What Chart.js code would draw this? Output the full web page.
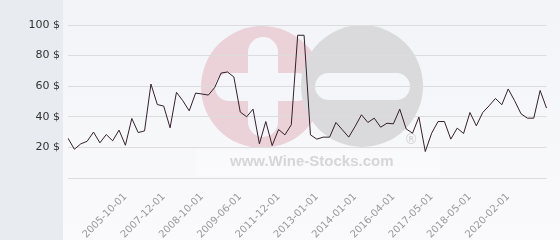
<!DOCTYPE html>
<html>
<head>
<meta charset="utf-8">
<script src="https://cdn.jsdelivr.net/npm/chart.js@4/dist/chart.umd.min.js"></script>
<style>
  html, body { margin: 0; padding: 0; background: #f6f7fa; }
  #wrap { width: 560px; height: 240px; }
</style>
</head>
<body>
<div id="wrap"><canvas id="priceChart" width="560" height="240"></canvas></div>
<script>
// ==========================================
// DATA
// ==========================================

// Price per bottle, one value per quote (76 quotes)
const prices = [
    26, 18.8, 22.3, 24, 30, 23, 28.4, 24.3, 31.3, 21.4,
    38.9, 29.7, 30.8, 61.4, 48, 47, 32.8, 56, 50.5, 43.9,
    55.5, 54.9, 54.2, 59.2, 68.6, 69.3, 66, 43.1, 40, 45,
    22.3, 36.9, 21.2, 31.7, 28.2, 34.8, 93.3, 93.3, 28.2, 25.4,
    26.7, 26.7, 36.3, 31.5, 26.7, 33.7, 41.3, 36.3, 39.1, 33.2,
    35.8, 35.4, 45, 32.1, 29.3, 39.8, 17.3, 29.3, 36.9, 36.9,
    25.4, 32.6, 29.1, 42.8, 34.1, 42.8, 47.2, 52, 47.9, 58.2,
    50.5, 42, 39.1, 39.1, 57.2, 45.7
];

// Dates shown on the x axis (every 6th quote, starting at the 10th)
const tickLabels = [
    '2005-10-01', '2007-12-01', '2008-10-01', '2009-06-01', '2011-12-01',
    '2013-01-01', '2014-01-01', '2016-04-01', '2017-05-01', '2018-05-01',
    '2020-02-01'
];
const firstTick = 9;
const tickEvery = 6;

// y axis ticks
const yTicks = [0, 20, 40, 60, 80, 100];

// Build category labels from the known dates
const categories = prices.map((v, i) => {
    const k = (i - firstTick) / tickEvery;
    return (k >= 0 && Number.isInteger(k) && k < tickLabels.length) ? tickLabels[k] : '';
});

// ==========================================
// BACKGROUND + WATERMARK
// ==========================================

const roundBar = (ctx, x, y, w, h) => {
    const r = Math.min(w, h) / 2;
    ctx.beginPath();
    ctx.roundRect(x, y, w, h, r);
    ctx.fill();
};

const backdrop = {
    id: 'backdrop',
    beforeDraw(chart) {
        const ctx = chart.ctx;
        ctx.save();
        // left panel
        ctx.fillStyle = '#e8ecf0';
        ctx.fillRect(0, 0, 63, chart.height);
        // plot panel
        const g = ctx.createLinearGradient(0, 0, 0, chart.height);
        g.addColorStop(0, '#f3f4f8');
        g.addColorStop(1, '#fafafc');
        ctx.fillStyle = g;
        ctx.fillRect(63, 0, chart.width - 63, chart.height);

        // watermark logo: pink plus, then grey minus
        ctx.fillStyle = '#ebd2d9';
        ctx.beginPath();
        ctx.arc(262, 87, 61, 0, Math.PI * 2);
        ctx.fill();
        ctx.fillStyle = '#f5f6f9';
        roundBar(ctx, 248, 37, 30, 100);
        roundBar(ctx, 215, 73, 96, 28);

        ctx.fillStyle = '#dadadc';
        ctx.beginPath();
        ctx.arc(362, 86, 61, 0, Math.PI * 2);
        ctx.fill();
        ctx.fillStyle = '#f5f6f9';
        roundBar(ctx, 315, 73, 95, 27);

        // watermark text
        ctx.fillStyle = 'rgba(255,255,255,0.3)';
        ctx.fillRect(196, 150, 244, 26);
        ctx.fillStyle = '#d6d6d8';
        ctx.font = 'bold 15px "Liberation Sans", Arial, sans-serif';
        ctx.textAlign = 'left';
        ctx.textBaseline = 'alphabetic';
        ctx.fillText('www.Wine-Stocks.com', 230, 166);
        ctx.font = 'bold 14px "Liberation Sans", Arial, sans-serif';
        ctx.fillText('\u00AE', 406, 144);
        ctx.restore();
    }
};

// ==========================================
// CHART
// ==========================================

Chart.defaults.font.family = '"DejaVu Sans", sans-serif';

const priceCtx = document.getElementById('priceChart').getContext('2d');
const priceChart = new Chart(priceCtx, {
    type: 'line',
    data: {
        labels: categories,
        datasets: [{
            data: prices,
            borderColor: '#33202a',
            borderWidth: 1,
            pointRadius: 0,
            tension: 0,
            fill: false
        }]
    },
    options: {
        responsive: false,
        animation: false,
        layout: {
            padding: { top: 25, right: 5, left: 0, bottom: 0 }
        },
        plugins: {
            legend: { display: false },
            tooltip: { enabled: false }
        },
        scales: {
            x: {
                offset: false,
                grid: { display: false },
                border: { display: false },
                afterFit: (axis) => {
                    axis.height = 62;
                },
                ticks: {
                    autoSkip: false,
                    minRotation: 45,
                    maxRotation: 45,
                    padding: 5,
                    color: '#999999',
                    font: { size: 10 }
                }
            },
            y: {
                min: yTicks[0],
                max: yTicks[yTicks.length - 1],
                afterBuildTicks: (axis) => {
                    axis.ticks = yTicks.map(v => ({ value: v }));
                },
                afterFit: (axis) => {
                    axis.width = 68;
                },
                grid: {
                    color: '#dcdcdf',
                    lineWidth: 1,
                    drawTicks: false
                },
                border: { display: false },
                ticks: {
                    padding: 8,
                    color: '#333333',
                    font: { size: 11 },
                    callback: (v) => v === 0 ? '' : v + ' $'
                }
            }
        }
    },
    plugins: [backdrop]
});
</script>
</body>
</html>
